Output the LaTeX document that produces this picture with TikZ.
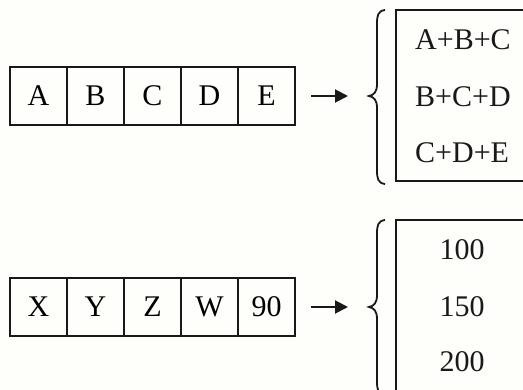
\documentclass[tikz,border=0pt]{standalone}
\usepackage{fontspec}
\setmainfont{Liberation Serif}
\usetikzlibrary{arrows.meta}
\definecolor{bg}{RGB}{254,254,251}
\definecolor{ink}{RGB}{25,25,25}
\tikzset{
  cell/.style={draw=ink, line width=1.8pt, minimum width=57pt, minimum height=58pt, outer sep=0pt,
    inner sep=0pt, text height=19.5pt, text depth=0pt, font=\fontsize{30}{34}\selectfont},
  resbox/.style={draw=ink, line width=1.8pt, inner sep=0pt, outer sep=0pt},
  restext/.style={font=\fontsize{30}{34}\selectfont, inner sep=0pt, text=ink},
  conn/.style={draw=ink, line width=2pt, -{Triangle[length=13pt,width=13pt]}},
  bracket/.style={draw=ink, line width=1.8pt}
}
\begin{document}
\begin{tikzpicture}[x=1pt,y=-1pt]
\useasboundingbox (0,0) rectangle (523,390);
\clip (0,0) rectangle (523,390);
\fill[bg] (0,0) rectangle (523,390);
% top row
\node[cell, anchor=north west] (a1) at (10,67) {A};
\node[cell, anchor=west] (a2) at (a1.east) {B};
\node[cell, anchor=west] (a3) at (a2.east) {C};
\node[cell, anchor=west] (a4) at (a3.east) {D};
\node[cell, anchor=west] (a5) at (a4.east) {E};
% brace top
\coordinate (b1) at (369,96);
\draw[bracket] (385,10) .. controls (378,11) and (377,15) .. (377,24) -- (377,84)
  .. controls (377,92) and (374,95) .. (b1)
  .. controls (374,97) and (377,100) .. (377,108) -- (377,170)
  .. controls (377,179) and (378,183) .. (385,184);
\coordinate (s1) at ([xshift=16pt]a5.east);
\draw[conn] (s1) -- ([xshift=-21pt]b1);
% result box top
\node[resbox, anchor=north west, minimum width=160pt, minimum height=171pt] (r1) at (396,10) {};
\node[restext, anchor=base west] (t1) at (415,50) {A+B+C};
\node[restext, anchor=base west] (t2) at (415,107) {B+C+D};
\node[restext, anchor=base west] (t3) at (415,163) {C+D+E};
% bottom row
\node[cell, anchor=north west] (c1) at (10,278) {X};
\node[cell, anchor=west] (c2) at (c1.east) {Y};
\node[cell, anchor=west] (c3) at (c2.east) {Z};
\node[cell, anchor=west] (c4) at (c3.east) {W};
\node[cell, anchor=west] (c5) at (c4.east) {90};
\coordinate (b2) at (369,307);
\draw[bracket] (385,220) .. controls (378,221) and (377,225) .. (377,234) -- (377,295)
  .. controls (377,303) and (374,306) .. (b2)
  .. controls (374,308) and (377,311) .. (377,319) -- (377,381)
  .. controls (377,390) and (378,394) .. (385,395);
\coordinate (s2) at ([xshift=16pt]c5.east);
\draw[conn] (s2) -- ([xshift=-21pt]b2);
\node[resbox, anchor=north west, minimum width=160pt, minimum height=200pt] (r2) at (396,220) {};
\node[restext, anchor=base] (u1) at (462,260) {100};
\node[restext, anchor=base] (u2) at (462,317) {150};
\node[restext, anchor=base] (u3) at (462,372) {200};
\end{tikzpicture}
\end{document}
